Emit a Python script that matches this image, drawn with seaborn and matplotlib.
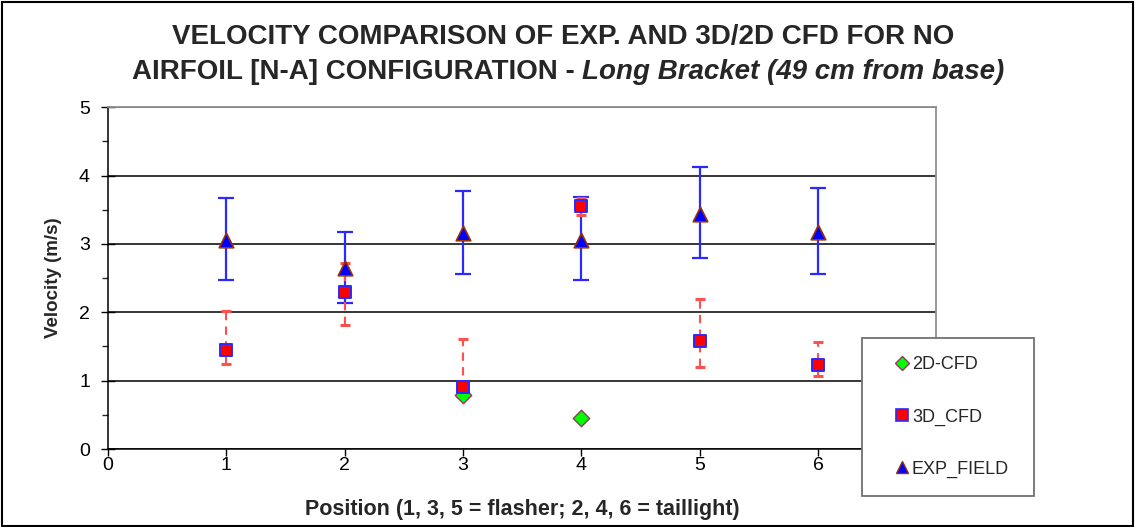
import numpy as np
import pandas as pd
import matplotlib
matplotlib.use("Agg")
import matplotlib.pyplot as plt
from matplotlib.lines import Line2D
from matplotlib.patches import Rectangle
import seaborn as sns

# ---- data ----
positions = [1, 2, 3, 4, 5, 6]
exp_field = [3.06, 2.65, 3.16, 3.06, 3.44, 3.18]
exp_upper = [3.67, 3.18, 3.78, 3.69, 4.13, 3.82]
exp_lower = [2.48, 2.13, 2.56, 2.48, 2.79, 2.56]
cfd3d = [1.45, 2.30, 0.90, 3.55, 1.58, 1.23]
cfd3d_upper = [2.02, 2.72, 1.61, 3.67, 2.20, 1.56]
cfd3d_lower = [1.25, 1.81, 0.86, 3.43, 1.20, 1.07]
pos2d = [3, 4]
cfd2d = [0.79, 0.45]
series_labels = ["2D-CFD", "3D_CFD", "EXP_FIELD"]
title_line1 = "VELOCITY COMPARISON OF EXP. AND 3D/2D CFD FOR NO"
title_line2a = "AIRFOIL [N-A] CONFIGURATION - "
title_line2b = "Long Bracket (49 cm from base)"
x_label = "Position (1, 3, 5 = flasher; 2, 4, 6 = taillight)"
y_label = "Velocity (m/s)"

sns.set_theme(style="white")
plt.rcParams["font.family"] = ["Liberation Sans", "DejaVu Sans"]

W, H = 1135, 527
fig = plt.figure(figsize=(W / 100, H / 100), dpi=100)
ax = fig.add_axes([108 / W, 1 - 449 / H, (936.4 - 108) / W, (449 - 107.3) / H])

df_exp = pd.DataFrame({"pos": positions, "v": exp_field})
df_3d = pd.DataFrame({"pos": positions, "v": cfd3d})
df_2d = pd.DataFrame({"pos": pos2d, "v": cfd2d})

# error bars
exp_err = [np.array(exp_field) - np.array(exp_lower), np.array(exp_upper) - np.array(exp_field)]
c3_err = [np.array(cfd3d) - np.array(cfd3d_lower), np.array(cfd3d_upper) - np.array(cfd3d)]
ax.errorbar(positions, exp_field, yerr=exp_err, fmt="none", ecolor="#2a2aff",
            elinewidth=1.6, capsize=5.5, capthick=1.6, zorder=3)
eb2 = ax.errorbar(positions, cfd3d, yerr=c3_err, fmt="none", ecolor="#ff5050",
                  elinewidth=1.5, capsize=3.5, capthick=2.2, zorder=3)
for lc in eb2[2]:
    lc.set_linestyle((0, (4, 3)))
for cap in eb2[1]:
    cap.set_color("#ff0000")

sns.scatterplot(data=df_2d, x="pos", y="v", ax=ax, marker="D", s=70, color="#00ff00",
                edgecolor="#993366", linewidth=1.0, zorder=4, legend=False)
sns.scatterplot(data=df_3d, x="pos", y="v", ax=ax, marker="s", s=85, color="#ff0000",
                edgecolor="#2a2aff", linewidth=1.4, zorder=5, legend=False)
sns.scatterplot(data=df_exp, x="pos", y="v", ax=ax, marker="^", s=110, color="#0000ff",
                edgecolor="#993300", linewidth=1.2, zorder=6, legend=False)

ax.set_xlim(0, 7)
ax.set_ylim(0, 5)
ax.set_xticks(range(0, 8))
ax.set_xticklabels([str(i) for i in range(0, 7)] + [""])
ax.set_yticks(range(0, 6))
ax.set_yticks(np.arange(0.5, 5, 1.0), minor=True)
ax.tick_params(axis="both", labelsize=14, colors="black")
ax.tick_params(axis="x", which="major", direction="out", length=5, width=1, bottom=True, pad=1)
ax.tick_params(axis="y", which="major", direction="inout", length=10, width=1, left=True, pad=8)
ax.tick_params(axis="y", which="minor", direction="out", length=4, width=1, left=True)
ax.yaxis.grid(True, color="black", linewidth=1.1)
ax.xaxis.grid(False)
ax.set_axisbelow(True)
for s in ["left", "bottom"]:
    ax.spines[s].set_color("black")
    ax.spines[s].set_linewidth(1.1)
for s in ["top", "right"]:
    ax.spines[s].set_color("#909090")
    ax.spines[s].set_linewidth(1.3)
ax.set_xlabel(x_label, fontsize=15.5, fontweight="bold", labelpad=18)
ax.set_ylabel(y_label, fontsize=13.5, fontweight="bold", labelpad=12)

# title
fig.text(563 / W, 1 - 37 / H, title_line1, ha="center", va="center", fontsize=20,
         fontweight="bold")
t2a = fig.text(0, 1 - 72 / H, title_line2a, ha="left", va="center", fontsize=20,
               fontweight="bold")
t2b = fig.text(0, 1 - 72 / H, title_line2b, ha="left", va="center", fontsize=20,
               fontweight="bold", style="italic")
fig.canvas.draw()
r = fig.canvas.get_renderer()
wa = t2a.get_window_extent(r).width
wb = t2b.get_window_extent(r).width
x0 = 568 - (wa + wb) / 2
t2a.set_x(x0 / W)
t2b.set_x((x0 + wa) / W)

# legend frame + legend
fig.patches.append(Rectangle((862 / W, 1 - 495.7 / H), 172 / W, 158 / H, transform=fig.transFigure,
                             facecolor="white", edgecolor="#707070", linewidth=1.3, zorder=10))
handles = [
    Line2D([], [], linestyle="none", marker="D", markersize=7, markerfacecolor="#00ff00", markeredgecolor="#993366", markeredgewidth=1.0),
    Line2D([], [], linestyle="none", marker="s", markersize=8, markerfacecolor="#ff0000", markeredgecolor="#2a2aff", markeredgewidth=1.2),
    Line2D([], [], linestyle="none", marker="^", markersize=9, markerfacecolor="#0000ff", markeredgecolor="#993300", markeredgewidth=1.0),
]
leg = fig.legend(handles, series_labels, loc="center left", bbox_to_anchor=(884 / W, 1 - 417 / H),
                 frameon=False, fontsize=13, handlelength=1.0, handletextpad=0.05,
                 labelspacing=1.95, borderpad=0)
leg.set_zorder(11)

# outer figure border
fig.patches.append(Rectangle((0.002, 0.002), 0.996, 0.995, transform=fig.transFigure,
                             facecolor="none", edgecolor="black", linewidth=1.5, zorder=0))

fig.savefig("out.png", dpi=100)
